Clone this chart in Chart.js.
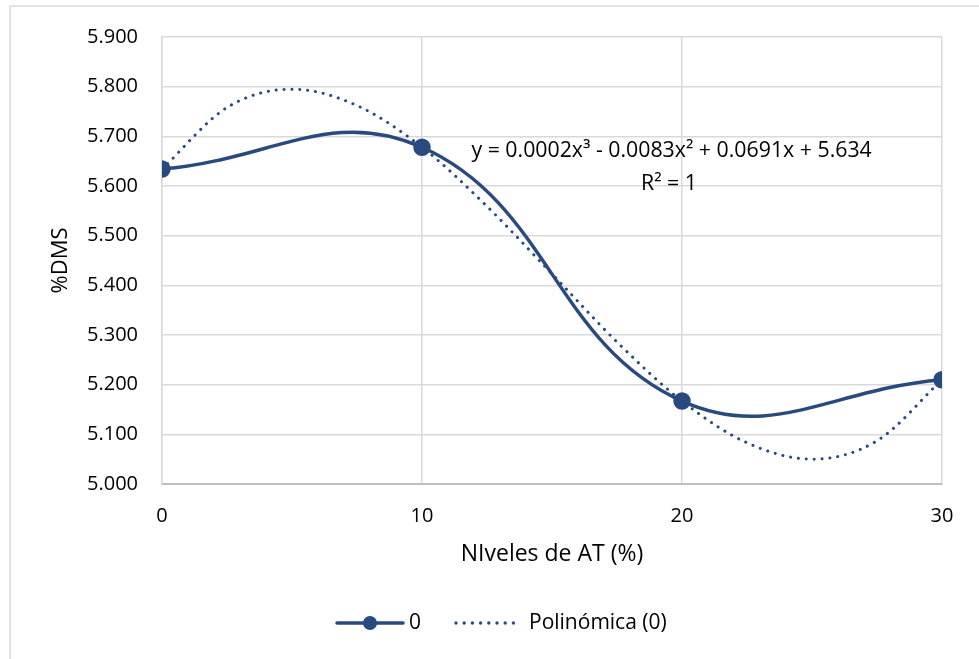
<!DOCTYPE html>
<html>
<head>
<meta charset="utf-8">
<script src="https://cdn.jsdelivr.net/npm/chart.js@4/dist/chart.umd.min.js"></script>
<style>
html,body{margin:0;padding:0;background:#fff;}
#wrap{width:979px;height:659px;position:relative;}
</style>
</head>
<body>
<div id="wrap"><canvas id="c" width="979" height="659"></canvas></div>
<script>
// Data
const xLevels = [0, 10, 20, 30];
const dmsValues = [5.634, 5.678, 5.167, 5.210];
// Dotted polynomial trendline at x steps of 2.5
const trendX = [0, 2.5, 5, 7.5, 10, 12.5, 15, 17.5, 20, 22.5, 25, 27.5, 30];
const trendY = [5.634, 5.758, 5.795, 5.762, 5.678, 5.559, 5.423, 5.286, 5.167, 5.083, 5.050, 5.087, 5.210];
const yTicks = [5.0, 5.1, 5.2, 5.3, 5.4, 5.5, 5.6, 5.7, 5.8, 5.9];
const xTicks = [0, 10, 20, 30];
const seriesName = '0';
const trendName = 'Polinómica (0)';
const equationText = 'y = 0.0002x³ - 0.0083x² + 0.0691x + 5.634';
const r2Text = 'R² = 1';
const xTitle = 'NIveles de AT (%)';
const yTitle = '%DMS';

const BLUE = '#294a7f';
const FONT = "'Open Sans', sans-serif";

const extras = {
  id: 'extras',
  beforeDraw(chart) {
    const ctx = chart.ctx;
    ctx.save();
    ctx.fillStyle = '#fff';
    ctx.fillRect(0, 0, chart.width, chart.height);
    ctx.strokeStyle = '#d9d9d9';
    ctx.lineWidth = 1.5;
    ctx.beginPath();
    ctx.moveTo(10, 700);
    ctx.lineTo(10, 6);
    ctx.lineTo(1000, 6);
    ctx.stroke();
    ctx.restore();
  },
  afterDraw(chart) {
    const ctx = chart.ctx;
    const xs = chart.scales.x, ys = chart.scales.y;
    ctx.save();
    // equation text
    ctx.fillStyle = '#000';
    ctx.font = "21.3px " + FONT;
    ctx.textAlign = 'center';
    ctx.textBaseline = 'middle';
    ctx.fillText(equationText, xs.getPixelForValue(19.6), ys.getPixelForValue(5.670));
    ctx.fillText(r2Text, xs.getPixelForValue(19.5), ys.getPixelForValue(5.605));
    // legend
    const ly = 623;
    ctx.strokeStyle = BLUE;
    ctx.lineWidth = 3.5;
    ctx.lineCap = 'round';
    ctx.beginPath();
    ctx.moveTo(337, ly);
    ctx.lineTo(403, ly);
    ctx.stroke();
    ctx.fillStyle = BLUE;
    ctx.beginPath();
    ctx.arc(370, ly, 7, 0, Math.PI * 2);
    ctx.fill();
    ctx.fillStyle = '#000';
    ctx.textAlign = 'left';
    ctx.font = "21px " + FONT;
    ctx.fillText(seriesName, 409, ly);
    ctx.fillStyle = BLUE;
    for (let i = 0; i < 8; i++) {
      ctx.beginPath();
      ctx.arc(456 + i * 8.2, ly, 1.7, 0, Math.PI * 2);
      ctx.fill();
    }
    ctx.fillStyle = '#000';
    ctx.fillText(trendName, 529, ly);
    ctx.restore();
  }
};

new Chart(document.getElementById('c'), {
  type: 'scatter',
  data: {
    datasets: [
      {
        label: trendName,
        data: trendX.map((x, i) => ({x: x, y: trendY[i]})),
        showLine: true,
        borderColor: BLUE,
        borderWidth: 3,
        borderDash: [0.1, 7.8],
        borderCapStyle: 'round',
        cubicInterpolationMode: 'monotone',
        pointRadius: 0,
        fill: false,
        order: 2
      },
      {
        label: seriesName,
        data: xLevels.map((x, i) => ({x: x, y: dmsValues[i]})),
        showLine: true,
        borderColor: BLUE,
        backgroundColor: BLUE,
        borderWidth: 3.5,
        tension: 0.42,
        pointRadius: 7,
        pointHoverRadius: 7,
        pointBackgroundColor: BLUE,
        pointBorderColor: BLUE,
        fill: false,
        order: 1
      }
    ]
  },
  options: {
    responsive: false,
    animation: false,
    events: [],
    layout: {padding: {left: 0, top: 37, right: 37, bottom: 0}},
    plugins: {legend: {display: false}, tooltip: {enabled: false}},
    scales: {
      x: {
        type: 'linear',
        min: 0, max: 30,
        afterBuildTicks(s) { s.ticks = xTicks.map(v => ({value: v})); },
        afterFit(s) { s.height = 659 - 484; },
        ticks: {color: '#000', font: {family: FONT, size: 20}, padding: 20, callback: v => String(v)},
        grid: {color: '#d9d9d9', lineWidth: 1.5, drawTicks: false},
        border: {color: '#bfbfbf', width: 2},
        title: {display: true, text: xTitle, color: '#000', font: {family: FONT, size: 23}, padding: {top: 0, bottom: 91}}
      },
      y: {
        min: 5.0, max: 5.9,
        afterBuildTicks(s) { s.ticks = yTicks.map(v => ({value: v})); },
        afterFit(s) { s.width = 162; },
        ticks: {color: '#000', font: {family: FONT, size: 20}, padding: 24, callback: v => Number(v).toFixed(3)},
        grid: {color: '#d9d9d9', lineWidth: 1.5, drawTicks: false},
        border: {color: '#d9d9d9', width: 1.5},
        title: {display: true, text: yTitle, color: '#000', font: {family: FONT, size: 22}, padding: {top: 48, bottom: 0}}
      }
    }
  },
  plugins: [extras]
});
</script>
</body>
</html>
